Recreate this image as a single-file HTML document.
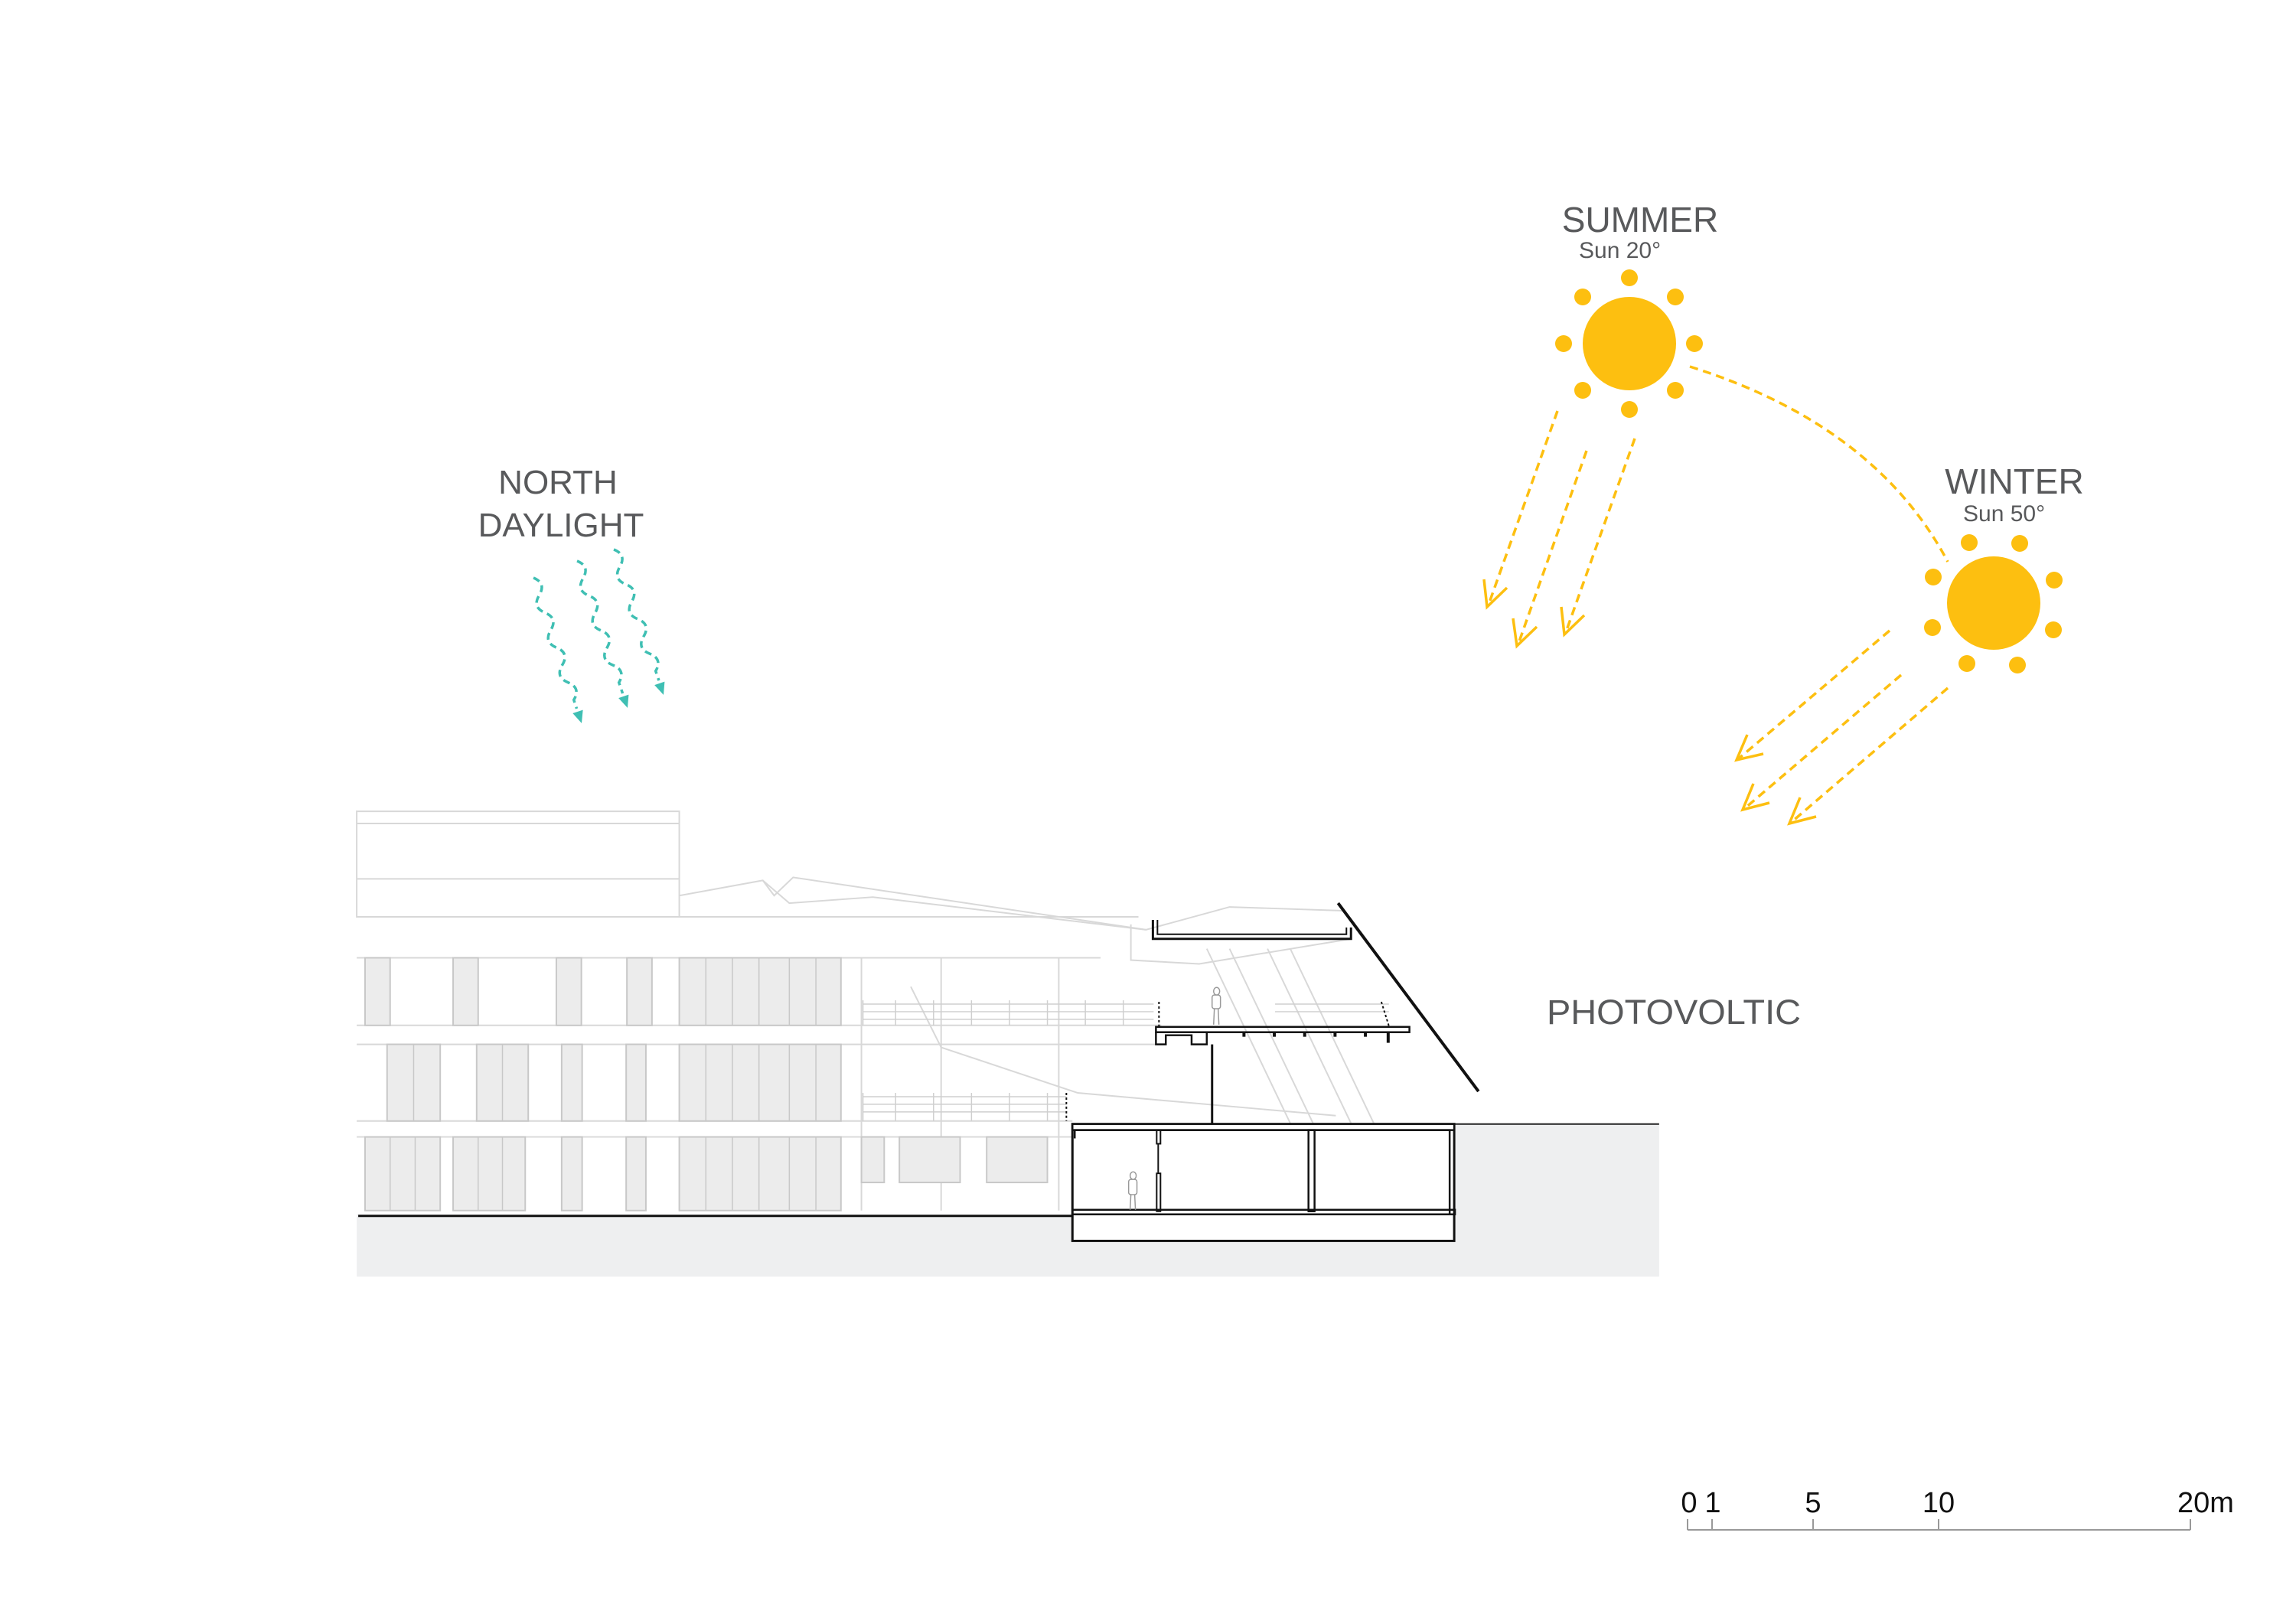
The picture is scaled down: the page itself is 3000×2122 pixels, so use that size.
<!DOCTYPE html>
<html><head><meta charset="utf-8"><style>
html,body{margin:0;padding:0;background:#fff;}
svg{display:block;}
text{font-family:"Liberation Sans",sans-serif;}
</style></head><body>
<svg width="3000" height="2122" viewBox="0 0 3000 2122" xmlns="http://www.w3.org/2000/svg">
<g transform="scale(0.9917)">
<rect x="470" y="1600" width="1716" height="82" fill="#eeeff0"/>
<rect x="1916" y="1481" width="270" height="120" fill="#eeeff0"/>
<line x1="1916" y1="1481" x2="2186" y2="1481" stroke="#222" stroke-width="2"/>
<g stroke="#d8d8d8" stroke-width="2" fill="none">
<rect x="470" y="1069" width="425" height="139"/>
<line x1="470" y1="1085" x2="895" y2="1085"/>
<line x1="470" y1="1158" x2="895" y2="1158"/>
<line x1="470" y1="1208" x2="1500" y2="1208"/>
<line x1="470" y1="1262" x2="1450" y2="1262"/>
<line x1="470" y1="1351" x2="1530" y2="1351"/>
<line x1="470" y1="1376" x2="1530" y2="1376"/>
<line x1="470" y1="1477" x2="1413" y2="1477"/>
<line x1="470" y1="1498" x2="1413" y2="1498"/>
<polyline points="895,1180 1005,1160 1020,1180 1045,1156 1510,1225"/>
<polyline points="1005,1160 1040,1190 1150,1182 1510,1225 1620,1195 1770,1200"/>
<polyline points="1490,1218 1490,1265 1580,1270 1780,1237"/>
<line x1="1590" y1="1250" x2="1700" y2="1480"/>
<line x1="1620" y1="1250" x2="1730" y2="1480"/>
<line x1="1670" y1="1250" x2="1780" y2="1480"/>
<line x1="1700" y1="1250" x2="1810" y2="1480"/>
<polyline points="1200,1300 1240,1380 1420,1440 1760,1470"/>
<line x1="1135" y1="1262" x2="1135" y2="1595"/>
<line x1="1240" y1="1262" x2="1240" y2="1595"/>
<line x1="1395" y1="1262" x2="1395" y2="1595"/>
</g>
<g fill="#ececec" stroke="#c8c8c8" stroke-width="2">
<rect x="481" y="1262" width="33" height="89"/><rect x="597" y="1262" width="33" height="89"/>
<rect x="733" y="1262" width="33" height="89"/><rect x="826" y="1262" width="33" height="89"/>
<rect x="895" y="1262" width="213" height="89"/>
<rect x="510" y="1376" width="70" height="101"/><rect x="628" y="1376" width="68" height="101"/>
<rect x="740" y="1376" width="27" height="101"/><rect x="825" y="1376" width="26" height="101"/>
<rect x="895" y="1376" width="213" height="101"/>
<rect x="481" y="1498" width="99" height="97"/><rect x="597" y="1498" width="95" height="97"/>
<rect x="740" y="1498" width="27" height="97"/><rect x="825" y="1498" width="26" height="97"/>
<rect x="895" y="1498" width="213" height="97"/>
<rect x="1135" y="1498" width="30" height="60"/><rect x="1185" y="1498" width="80" height="60"/>
<rect x="1300" y="1498" width="80" height="60"/>
</g>
<g stroke="#c8c8c8" stroke-width="1.5">
<line x1="930" y1="1262" x2="930" y2="1351"/><line x1="965" y1="1262" x2="965" y2="1351"/><line x1="1000" y1="1262" x2="1000" y2="1351"/><line x1="1040" y1="1262" x2="1040" y2="1351"/><line x1="1075" y1="1262" x2="1075" y2="1351"/>
<line x1="930" y1="1376" x2="930" y2="1477"/><line x1="965" y1="1376" x2="965" y2="1477"/><line x1="1000" y1="1376" x2="1000" y2="1477"/><line x1="1040" y1="1376" x2="1040" y2="1477"/><line x1="1075" y1="1376" x2="1075" y2="1477"/>
<line x1="930" y1="1498" x2="930" y2="1595"/><line x1="965" y1="1498" x2="965" y2="1595"/><line x1="1000" y1="1498" x2="1000" y2="1595"/><line x1="1040" y1="1498" x2="1040" y2="1595"/><line x1="1075" y1="1498" x2="1075" y2="1595"/>
<line x1="545" y1="1376" x2="545" y2="1477"/><line x1="662" y1="1376" x2="662" y2="1477"/>
<line x1="514" y1="1498" x2="514" y2="1595"/><line x1="547" y1="1498" x2="547" y2="1595"/><line x1="630" y1="1498" x2="630" y2="1595"/><line x1="662" y1="1498" x2="662" y2="1595"/>
</g>
<g stroke="#cfcfcf" stroke-width="1.5">
<line x1="1137" y1="1323" x2="1520" y2="1323"/><line x1="1137" y1="1333" x2="1520" y2="1333"/><line x1="1137" y1="1343" x2="1520" y2="1343"/>
<line x1="1137" y1="1445" x2="1405" y2="1445"/><line x1="1137" y1="1455" x2="1405" y2="1455"/><line x1="1137" y1="1465" x2="1405" y2="1465"/>
<line x1="1137" y1="1318" x2="1137" y2="1351"/><line x1="1180" y1="1318" x2="1180" y2="1351"/><line x1="1230" y1="1318" x2="1230" y2="1351"/><line x1="1280" y1="1318" x2="1280" y2="1351"/><line x1="1330" y1="1318" x2="1330" y2="1351"/><line x1="1380" y1="1318" x2="1380" y2="1351"/><line x1="1430" y1="1318" x2="1430" y2="1351"/><line x1="1480" y1="1318" x2="1480" y2="1351"/>
<line x1="1137" y1="1440" x2="1137" y2="1477"/><line x1="1180" y1="1440" x2="1180" y2="1477"/><line x1="1230" y1="1440" x2="1230" y2="1477"/><line x1="1280" y1="1440" x2="1280" y2="1477"/><line x1="1330" y1="1440" x2="1330" y2="1477"/><line x1="1380" y1="1440" x2="1380" y2="1477"/>
<line x1="1680" y1="1323" x2="1830" y2="1323"/><line x1="1680" y1="1333" x2="1830" y2="1333"/>
</g>
<g stroke="#111" fill="none">
<line x1="472" y1="1602" x2="1413" y2="1602" stroke-width="3"/>
<rect x="1413" y="1481" width="503" height="154" fill="#fff" stroke-width="3"/>
<rect x="1413" y="1481" width="503" height="8" fill="#fff" stroke-width="2.5"/>
<polyline points="1416,1500 1416,1489 1910,1489 1910,1600" stroke-width="2.5"/>
<rect x="1413" y="1594" width="504" height="6" stroke-width="2.5"/>
<rect x="1524" y="1489" width="5" height="18" stroke-width="2"/>
<rect x="1524" y="1546" width="5" height="50" stroke-width="2"/>
<line x1="1526" y1="1507" x2="1526" y2="1546" stroke-width="2"/>
<rect x="1724" y="1489" width="8" height="107" stroke-width="2.5"/>
<line x1="1597" y1="1376" x2="1597" y2="1481" stroke-width="3"/>
<rect x="1523" y="1353" width="334" height="7" stroke-width="2.5"/>
<polyline points="1523,1360 1523,1376 1536,1376 1536,1364 1570,1364 1570,1376 1590,1376 1590,1360" stroke-width="2.5"/>
<polyline points="1519,1212 1519,1237 1780,1237 1780,1222" stroke-width="3"/>
<polyline points="1525,1212 1525,1231 1774,1231 1774,1222" stroke-width="2"/>
<line x1="1763" y1="1190" x2="1948" y2="1438" stroke-width="4"/>
<line x1="1527" y1="1320" x2="1527" y2="1352" stroke-width="2" stroke-dasharray="3 3"/>
<line x1="1820" y1="1320" x2="1830" y2="1352" stroke-width="2" stroke-dasharray="3 3"/>
<line x1="1405" y1="1440" x2="1405" y2="1477" stroke-width="2" stroke-dasharray="3 3"/>
</g>
<g fill="#111"><rect x="1637" y="1360" width="4" height="6"/><rect x="1677" y="1360" width="4" height="6"/><rect x="1717" y="1360" width="4" height="6"/><rect x="1757" y="1360" width="4" height="6"/><rect x="1797" y="1360" width="4" height="6"/><rect x="1827" y="1360" width="4" height="14"/></g>
<g fill="#fff" stroke="#999" stroke-width="1.5">
<ellipse cx="1603" cy="1306" rx="4" ry="5"/><rect x="1597" y="1311" width="11" height="18" rx="3"/><line x1="1600" y1="1329" x2="1599" y2="1350"/><line x1="1605" y1="1329" x2="1606" y2="1350"/>
<ellipse cx="1493" cy="1549" rx="4" ry="5"/><rect x="1487" y="1554" width="11" height="20" rx="3"/><line x1="1490" y1="1574" x2="1489" y2="1594"/><line x1="1495" y1="1574" x2="1496" y2="1594"/>
</g>
</g>
<g fill="#58595b">
<text x="729" y="645" font-size="44" text-anchor="middle">NORTH</text>
<text x="733" y="701" font-size="44" text-anchor="middle">DAYLIGHT</text>
<text x="2143" y="303" font-size="46" text-anchor="middle">SUMMER</text>
<text x="2063" y="337" font-size="30">Sun 20°</text>
<text x="2632" y="645" font-size="46" text-anchor="middle">WINTER</text>
<text x="2565" y="681" font-size="30">Sun 50°</text>
<text x="2021" y="1338" font-size="45" textLength="332" lengthAdjust="spacingAndGlyphs">PHOTOVOLTIC</text>
</g>
<g stroke="#3fbfb3" stroke-width="3.5" fill="none" stroke-dasharray="9 6">
<path transform="translate(697,755) rotate(71.7)" d="M0 0 q12 -14 24 0 t24 0 t24 0 t24 0 t24 0 t24 0 t24 0 l12 0"/>
<path transform="translate(754,733) rotate(71)" d="M0 0 q12 -14 24 0 t24 0 t24 0 t24 0 t24 0 t24 0 t24 0 l15 0"/>
<path transform="translate(802,718) rotate(71)" d="M0 0 q12 -14 24 0 t24 0 t24 0 t24 0 t24 0 t24 0 t24 0 l13 0"/>
</g>
<g fill="#3fbfb3">
<path transform="translate(760,945) rotate(71.7)" d="M0 0 L-16 -7 L-16 7 Z"/>
<path transform="translate(820,925) rotate(71)" d="M0 0 L-16 -7 L-16 7 Z"/>
<path transform="translate(867,908) rotate(71)" d="M0 0 L-16 -7 L-16 7 Z"/>
</g>
<g fill="#fdbf10">
<circle cx="2129" cy="449" r="61"/>
<circle cx="2129" cy="363" r="11"/><circle cx="2189" cy="388" r="11"/><circle cx="2214" cy="449" r="11"/><circle cx="2189" cy="510" r="11"/>
<circle cx="2129" cy="535" r="11"/><circle cx="2068" cy="510" r="11"/><circle cx="2043" cy="449" r="11"/><circle cx="2068" cy="388" r="11"/>
<circle cx="2605" cy="788" r="61"/>
<circle cx="2573" cy="709" r="11"/><circle cx="2639" cy="710" r="11"/><circle cx="2684" cy="758" r="11"/><circle cx="2683" cy="823" r="11"/>
<circle cx="2636" cy="869" r="11"/><circle cx="2570" cy="867" r="11"/><circle cx="2525" cy="820" r="11"/><circle cx="2526" cy="754" r="11"/>
</g>
<g stroke="#fdbf10" stroke-width="3.5" fill="none" stroke-dasharray="11 7">
<path d="M2208 479 Q2450 555 2545 734"/>
<line x1="2035" y1="537" x2="1945" y2="790"/>
<line x1="2073" y1="589" x2="1984" y2="841"/>
<line x1="2136" y1="573" x2="2046" y2="826"/>
<line x1="2469" y1="824" x2="2272" y2="991"/>
<line x1="2484" y1="882" x2="2280" y2="1056"/>
<line x1="2545" y1="899" x2="2341" y2="1074"/>
</g>
<g stroke="#fdbf10" stroke-width="3.5" fill="none">
<polyline points="1939,757 1943,793 1969,768"/>
<polyline points="1977,808 1982,844 2008,819"/>
<polyline points="2040,793 2044,829 2070,804"/>
<polyline points="2283,960 2269,993 2304,985"/>
<polyline points="2291,1024 2277,1058 2312,1049"/>
<polyline points="2352,1042 2338,1076 2373,1067"/>
</g>
<g stroke="#999" stroke-width="2" fill="none">
<line x1="2205" y1="1999" x2="2862" y2="1999"/>
<line x1="2205" y1="1985" x2="2205" y2="1999"/><line x1="2237" y1="1985" x2="2237" y2="1999"/>
<line x1="2369" y1="1985" x2="2369" y2="1999"/><line x1="2533" y1="1985" x2="2533" y2="1999"/><line x1="2862" y1="1985" x2="2862" y2="1999"/>
</g>
<g fill="#111" font-size="38">
<text x="2207" y="1976" text-anchor="middle">0</text>
<text x="2238" y="1976" text-anchor="middle">1</text>
<text x="2369" y="1976" text-anchor="middle">5</text>
<text x="2533" y="1976" text-anchor="middle">10</text>
<text x="2882" y="1976" text-anchor="middle">20m</text>
</g>
</svg>
</body></html>
